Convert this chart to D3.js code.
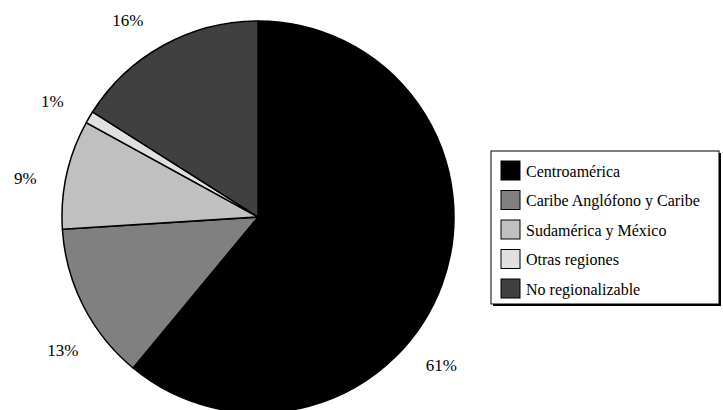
<!DOCTYPE html>
<html>
<head>
<meta charset="utf-8">
<script src="https://cdn.jsdelivr.net/npm/d3@7"></script>
<style>
  html, body { margin: 0; padding: 0; background: #fff; }
  svg { display: block; }
  text { font-family: "Liberation Serif", "Times New Roman", serif; fill: #000; }
</style>
</head>
<body>
<svg id="chart" width="723" height="410"></svg>
<script>
// ---- data ----
const categories = ["Centroamérica", "Caribe Anglófono y Caribe", "Sudamérica y México", "Otras regiones", "No regionalizable"];
const values = [61, 13, 9, 1, 16];
const labels = ["61%", "13%", "9%", "1%", "16%"];

// ---- layout / style (not data) ----
const colors = ["#000000", "#808080", "#c0c0c0", "#e0e0e0", "#404040"];
const labelShiftDeg = [19.2, -7.2, -3, -1.2, -4.7];

const svg = d3.select("#chart");
const cx = 258, cy = 217, R = 196, labelR = 236;

const pie = d3.pie().value(d => d).sort(null)
  .startAngle(0).endAngle(2 * Math.PI);
const arcs = pie(values);
const arc = d3.arc().innerRadius(0).outerRadius(R);

const g = svg.append("g").attr("transform", `translate(${cx},${cy})`);
g.selectAll("path.slice").data(arcs).enter().append("path")
  .attr("class", "slice")
  .attr("d", arc)
  .attr("fill", (d, i) => colors[i])
  .attr("stroke", "#000")
  .attr("stroke-width", 1.5)
  .attr("stroke-linejoin", "round");

const labelAngle = (d, i) => (d.startAngle + d.endAngle) / 2 + labelShiftDeg[i] * Math.PI / 180;
g.selectAll("text.lbl").data(arcs).enter().append("text")
  .attr("class", "lbl")
  .attr("x", (d, i) => labelR * Math.sin(labelAngle(d, i)))
  .attr("y", (d, i) => -labelR * Math.cos(labelAngle(d, i)))
  .attr("dy", "0.35em")
  .attr("text-anchor", "middle")
  .attr("font-size", 17)
  .text((d, i) => labels[i]);

// ---- legend ----
const lx = 491, ly = 151, lw = 228, lh = 153;
const leg = svg.append("g");
leg.append("rect").attr("x", lx + 2).attr("y", ly + 2).attr("width", lw).attr("height", lh).attr("fill", "#000");
leg.append("rect").attr("x", lx).attr("y", ly).attr("width", lw).attr("height", lh)
  .attr("fill", "#fff").attr("stroke", "#000").attr("stroke-width", 1);

const rowY = d3.scalePoint().domain(categories).range([171, 289]);
const items = leg.selectAll("g.item").data(categories).enter().append("g").attr("class", "item")
  .attr("transform", d => `translate(0,${rowY(d)})`);
items.append("rect")
  .attr("x", 501).attr("y", -10).attr("width", 19).attr("height", 19)
  .attr("fill", (d, i) => colors[i])
  .attr("stroke", "#000").attr("stroke-width", 1);
items.append("text")
  .attr("x", 526).attr("y", 0).attr("dy", "0.35em")
  .attr("font-size", 16)
  .text(d => d);
</script>
</body>
</html>
